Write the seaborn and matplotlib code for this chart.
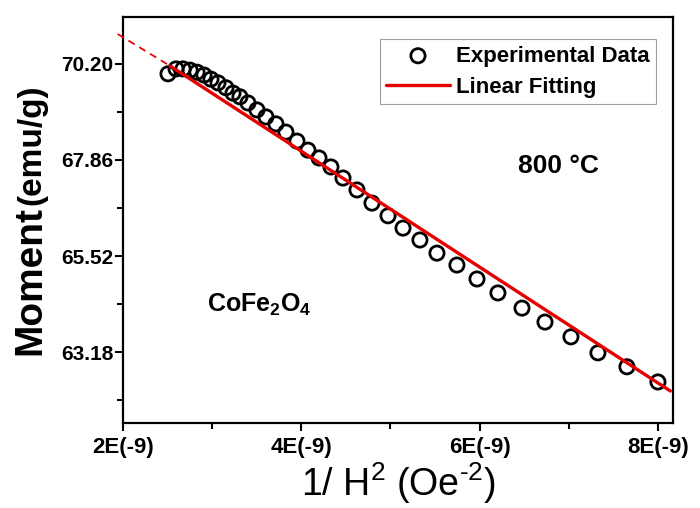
import numpy as np
import pandas as pd
import seaborn as sns

from matplotlib import pyplot as plt, ticker

# 1/H^2 in units of 1E(-9) Oe^-2, moment in emu/g
inv_h2 = [2.505, 2.595, 2.673, 2.752, 2.830, 2.909, 2.987, 3.066, 3.155, 3.234,
          3.312, 3.402, 3.503, 3.604, 3.716, 3.828, 3.952, 4.075, 4.199, 4.333,
          4.468, 4.625, 4.793, 4.973, 5.141, 5.331, 5.522, 5.746, 5.971, 6.206,
          6.476, 6.734, 7.025, 7.328, 7.653, 8.001]
moment = [69.96, 70.08, 70.08, 70.05, 70.00, 69.93, 69.83, 69.74, 69.62, 69.49,
          69.40, 69.25, 69.08, 68.91, 68.74, 68.54, 68.32, 68.10, 67.91, 67.69,
          67.42, 67.13, 66.81, 66.50, 66.20, 65.91, 65.59, 65.30, 64.96, 64.62,
          64.25, 63.91, 63.55, 63.16, 62.82, 62.45]

# linear fit (solid) and its extrapolation towards 1/H^2 -> 0 (dashed)
fit_x = [2.53, 8.14]
fit_y = [70.15, 62.23]
extrap_x = [1.94, 2.53]
extrap_y = [70.93, 70.15]

xticks = [2, 4, 6, 8]
xminor = [3, 5, 7]
yticks = [63.18, 65.52, 67.86, 70.20]
yminor = [62.01, 64.35, 66.69, 69.03]

RED = '#e60000'

sns.set_theme(style='ticks')
plt.rcParams['font.family'] = ['Liberation Sans', 'DejaVu Sans']
plt.rcParams['mathtext.fontset'] = 'custom'
plt.rcParams['mathtext.rm'] = 'Liberation Sans'
plt.rcParams['mathtext.bf'] = 'Liberation Sans:bold'
for key in ['text.color', 'axes.labelcolor', 'xtick.color', 'ytick.color',
            'axes.edgecolor']:
    plt.rcParams[key] = 'black'

fig = plt.figure(figsize=(7, 5.08), dpi=100)
ax = fig.add_axes([123 / 700, 1 - 423 / 508, 550 / 700, 406 / 508])

df = pd.DataFrame({'x': inv_h2, 'y': moment})
sns.scatterplot(data=df, x='x', y='y', ax=ax, marker='o', s=105,
                facecolor='none', edgecolor='black', linewidth=2,
                label='Experimental Data', zorder=2)
sns.lineplot(x=fit_x, y=fit_y, ax=ax, color=RED, linewidth=2.4,
             label='Linear Fitting', zorder=3)
sns.lineplot(x=extrap_x, y=extrap_y, ax=ax, color=RED, linewidth=1.3,
             linestyle=(0, (4, 3)), clip_on=False, legend=False, zorder=3)

ax.set_xlim(2, 8.17)
ax.set_ylim(61.45, 71.345)

ax.set_xticks(xticks)
ax.set_xticklabels([f'{t}E(-9)' for t in xticks], fontweight='bold', fontsize=16)
ax.set_xticks(xminor, minor=True)
ax.set_yticks(yticks)
ax.set_yticklabels([f'{t:.2f}' for t in yticks], fontweight='bold', fontsize=15)
ax.set_yticks(yminor, minor=True)

ax.tick_params(which='both', direction='out', width=1.5, color='black',
               top=False, right=False, bottom=True, left=True)
ax.tick_params(which='major', length=6)
ax.tick_params(which='minor', length=4)
ax.tick_params(axis='y', pad=1)
ax.tick_params(axis='x', pad=4)

for side in ['left', 'right', 'top', 'bottom']:
    ax.spines[side].set_visible(True)
    ax.spines[side].set_color('black')
    ax.spines[side].set_linewidth(1.6)

ax.set_xlabel('')
ax.set_ylabel('')
fig.text(398 / 700, 1 - 496 / 508,
         '1/ H$^\\mathregular{2}$ (Oe$^\\mathregular{\u20102}$)',
         fontsize=27, ha='center', va='baseline')
fig.text(40 / 700, 1 - 355 / 508, 'Moment', fontsize=28, fontweight='bold',
         rotation=90, ha='left', va='baseline', rotation_mode='anchor')
fig.text(40 / 700, 1 - 205 / 508, '(emu/g)', fontsize=24, fontweight='bold',
         rotation=90, ha='left', va='baseline', rotation_mode='anchor')

ax.text(0.718, 0.616, '800 \u00b0C', transform=ax.transAxes, fontsize=19,
        fontweight='bold', va='baseline')
ax.text(0.153, 0.273, r'CoFe$_\mathbf{2}$O$_\mathbf{4}$', transform=ax.transAxes,
        fontsize=18, fontweight='bold', va='baseline')

leg = ax.legend(loc='upper right', bbox_to_anchor=(0.969, 0.946),
                prop={'weight': 'bold', 'size': 16}, frameon=True, fancybox=False,
                edgecolor='#888888', handlelength=2.85, handletextpad=0.27,
                borderpad=0.3, labelspacing=0.45, borderaxespad=0)
leg.get_frame().set_linewidth(0.8)

plt.savefig('out.png', dpi=100)
